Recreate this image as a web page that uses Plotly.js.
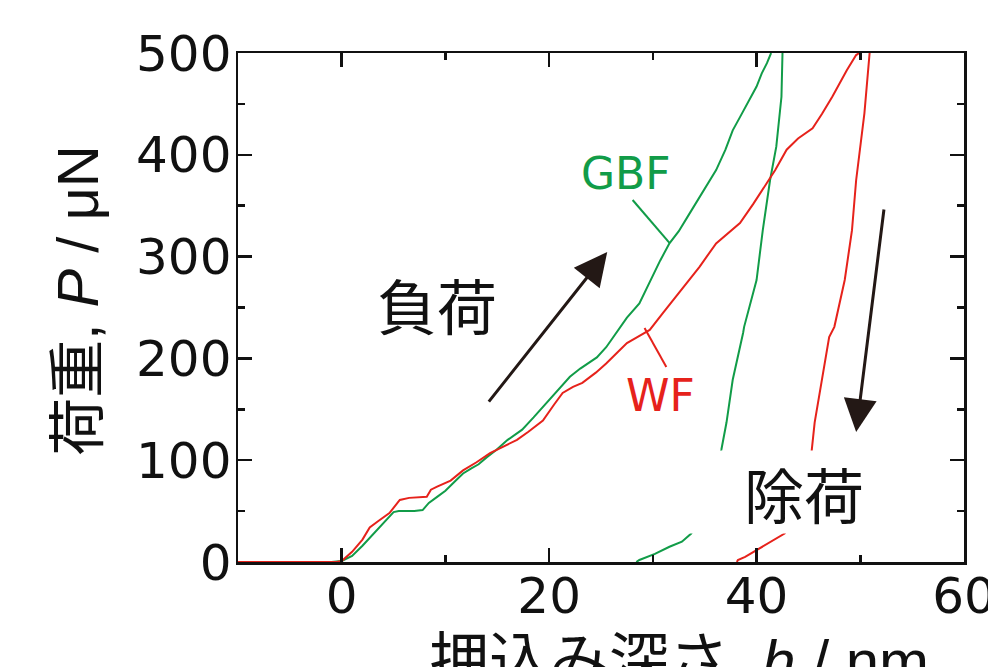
<!DOCTYPE html>
<html>
<head>
<meta charset="utf-8">
<script src="https://cdn.plot.ly/plotly-3.0.1.min.js"></script>
<style>html,body{margin:0;padding:0;background:#fff;}#chart{width:988px;height:667px;}</style>
</head>
<body>
<div id="chart"></div>
<script>
// ---- data ----
const gbfLoadX = [-10,-1,0,1,2,3,4,5,5.5,7,7.8,8.4,9.2,10,11,11.7,12.5,13.2,14,14.9,16,17.4,18.5,20,21,22,23,24.6,25.5,26.5,27.5,28.7,29.7,30.7,31.6,32.5,33.4,34.2,35,36.1,37,37.7,38.4,39.2,40,40.5,41,41.4];
const gbfLoadY = [0,0,1,6,16,27,38,49,50,50,51,58,64,70,80,87,92,96,103,110,120,130,142,159,170,182,190,201,211,225,240,254,275,296,313,325,340,353,367,385,405,424,437,452,467,480,490,500];
const gbfUnloadX = [42.5,42.4,41.9,41.3,40.6,40,38.8,38.7,37.7,37.1,36.6,36,35.3,34.5,33.7,32.8,31.6,30.2,28.7,28.4];
const gbfUnloadY = [500,457,408,375,326,277,231,225,179,137,110,85,60,42,28,20,15,8,2,0];
const wfLoadX = [-10,-0.5,0,1,2,2.7,3.5,4.6,5.6,6.5,8.2,8.6,9.2,10.5,11.7,13,14.3,15.5,16.9,18,19.4,20.5,21.3,22.3,23.2,24.5,25.5,26.5,27.5,28.5,29.7,31,32.9,34.5,36.1,37.3,38.4,39.7,41,41.8,42.9,44,45.4,46.3,47.3,48,48.7,49.6,49.9];
const wfLoadY = [0,0,1,10,22,34,40,48,61,63,64,71,74,80,90,98,107,113,120,128,139,155,166,172,176,186,195,205,215,221,228,245,270,290,313,323,333,352,372,385,405,416,426,440,457,470,483,498,500];
const wfUnloadX = [50.9,50.4,49.6,49.2,48.5,47.5,47,46.3,45.6,45.3,44.8,44.2,43.5,42.7,41.4,40,38.9,38.2,38.1];
const wfUnloadY = [500,441,375,326,277,231,221,179,137,108,80,55,40,28,20,12,5,2,0];

const xTickVals = [0,20,40,60];
const yTickVals = [0,100,200,300,400,500];

const green = '#119c48';
const red = '#e6221b';
const black = '#111111';

const traces = [
  {x: gbfLoadX, y: gbfLoadY, mode:'lines', line:{color:green, width:2}, name:'GBF'},
  {x: gbfUnloadX, y: gbfUnloadY, mode:'lines', line:{color:green, width:2}, name:'GBF unload'},
  {x: wfLoadX, y: wfLoadY, mode:'lines', line:{color:red, width:2}, name:'WF'},
  {x: wfUnloadX, y: wfUnloadY, mode:'lines', line:{color:red, width:2}, name:'WF unload'}
];

const tickFont = {family:'DejaVu Sans, Liberation Sans, sans-serif', size:50, color:black};
const cjk = 'Liberation Sans, Noto Sans CJK JP, sans-serif';

const layout = {
  width:988, height:667,
  margin:{l:238, r:24, t:53, b:105},
  paper_bgcolor:'#fff', plot_bgcolor:'#fff',
  showlegend:false,
  xaxis:{
    range:[-10,60], tickvals:xTickVals, ticks:'inside', ticklen:14, tickwidth:2.5, tickcolor:black,
    showline:true, linewidth:2.5, linecolor:black, mirror:'ticks', showgrid:false, zeroline:false,
    tickfont:tickFont, ticklabelstandoff:-12, ticklabeloverflow:'allow',
    minor:{tickvals:[10,30,50], ticks:'inside', ticklen:7, tickwidth:2.5, tickcolor:black, showgrid:false}
  },
  yaxis:{
    range:[0,500], tickvals:yTickVals, ticks:'inside', ticklen:14, tickwidth:2.5, tickcolor:black,
    showline:true, linewidth:2.5, linecolor:black, mirror:'ticks', showgrid:false, zeroline:false,
    tickfont:tickFont, ticklabelstandoff:-6, ticklabeloverflow:'allow',
    minor:{tickvals:[50,150,250,350,450], ticks:'inside', ticklen:7, tickwidth:2.5, tickcolor:black, showgrid:false}
  },
  shapes:[
    {type:'line', xref:'x', yref:'y', x0:28.05, y0:355.6, x1:31.6, y1:313.4, line:{color:green, width:2}},
    {type:'line', xref:'x', yref:'y', x0:31.3, y0:191.5, x1:29.2, y1:229.9, line:{color:red, width:2}}
  ],
  annotations:[
    {xref:'x', yref:'y', x:25.6, y:304.5, ax:14.07, ay:156, axref:'x', ayref:'y', text:'', showarrow:true,
     arrowhead:2, arrowsize:2.2, arrowwidth:3, arrowcolor:'#231815'},
    {xref:'x', yref:'y', x:49.6, y:127.7, ax:52.3, ay:347.7, axref:'x', ayref:'y', text:'', showarrow:true,
     arrowhead:2, arrowsize:2.2, arrowwidth:3, arrowcolor:'#231815'},
    {xref:'x', yref:'y', x:27.4, y:382, text:'GBF', showarrow:false, font:{family:'DejaVu Sans, sans-serif', size:44, color:green}},
    {xref:'x', yref:'y', x:30.75, y:164, text:'WF', showarrow:false, font:{family:'DejaVu Sans, sans-serif', size:44, color:red}},
    {xref:'x', yref:'y', x:9.16, y:254.4, text:'負荷', showarrow:false, font:{family:'Noto Sans CJK JP, sans-serif', size:60, color:black}},
    {xref:'x', yref:'y', x:44.55, y:68.8, text:'除荷', showarrow:false, bgcolor:'#ffffff', width:270, height:80,
     font:{family:'Noto Sans CJK JP, sans-serif', size:60, color:black}},
    {xref:'paper', yref:'paper', x:-0.2204, y:0.515, xanchor:'center', yanchor:'middle', text:'荷重, <i>P</i> / μN', textangle:-90, showarrow:false,
     font:{family:cjk, size:58, color:black}},
    {xref:'paper', yref:'paper', x:0.2603, y:-0.125, xanchor:'left', yanchor:'top', text:'押込み深さ, <i>h</i> / nm', showarrow:false,
     font:{family:cjk, size:60, color:black}}
  ]
};

Plotly.newPlot('chart', traces, layout, {staticPlot:true, displayModeBar:false});
</script>
</body>
</html>
